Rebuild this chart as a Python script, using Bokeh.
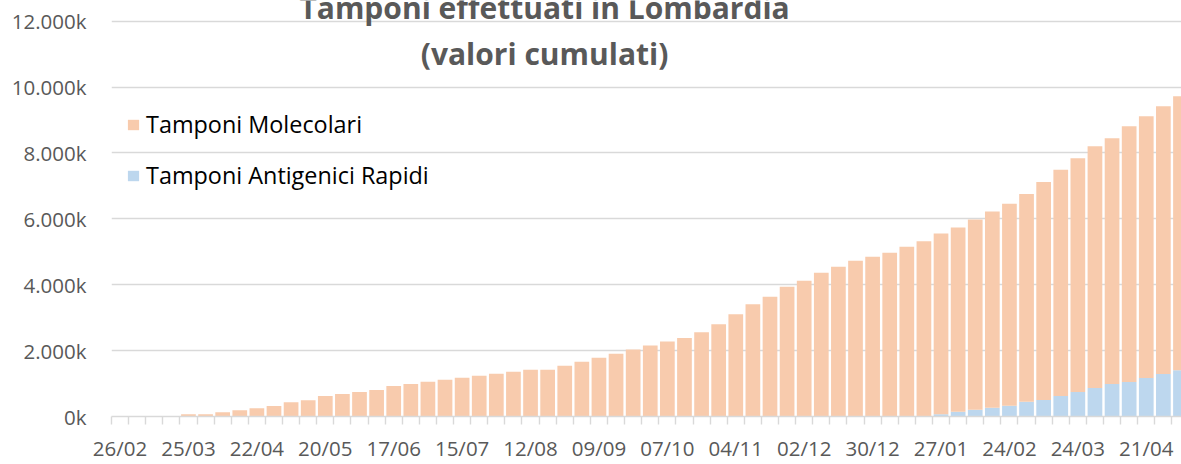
from bokeh.plotting import figure
from bokeh.models import (ColumnDataSource, Range1d, FixedTicker, Legend, LegendItem)
from bokeh.core.properties import value
from bokeh.embed import file_html
from bokeh.resources import INLINE

# ---- data (thousands of tests, cumulative, weekly from 26/02/2020) ----
molecolari = [0, 0, 0, 0, 71, 71, 132, 193, 254, 315, 436, 497, 619, 680, 741, 802,
              928, 989, 1051, 1112, 1173, 1234, 1295, 1357, 1418, 1418, 1540, 1663, 1785, 1907, 2030, 2152,
              2275, 2385, 2555, 2798, 3101, 3404, 3636, 3939, 4121, 4363, 4545, 4727, 4848, 4969, 5151, 5318,
              5483, 5595, 5775, 5957, 6138, 6310, 6612, 6864, 7096, 7338, 7459, 7762, 7943, 8125, 8316]
antigenici = [0] * 48 + [71, 141, 202, 262, 323, 444, 504, 625, 746, 867, 988, 1048, 1169, 1290, 1401]
settimana = list(range(len(molecolari)))

tick_pos = [0, 4, 8, 12, 16, 20, 24, 28, 32, 36, 40, 44, 48, 52, 56, 60]
tick_labels = ["26/02", "25/03", "22/04", "20/05", "17/06", "15/07", "12/08", "09/09",
               "07/10", "04/11", "02/12", "30/12", "27/01", "24/02", "24/03", "21/04"]
y_ticks = [0, 2000, 4000, 6000, 8000, 10000, 12000]
y_labels = ["0k", "2.000k", "4.000k", "6.000k", "8.000k", "10.000k", "12.000k"]

title_lines = ["Tamponi effettuati in Lombardia", "(valori cumulati)"]
nome_mol = "Tamponi Molecolari"
nome_ant = "Tamponi Antigenici Rapidi"

ORANGE = "#F8CBAD"
BLUE = "#BDD7EE"
GRID = "#D9D9D9"
TXT = "#595959"
FONT = "Open Sans"

src = ColumnDataSource(dict(x=settimana, antigenici=antigenici, molecolari=molecolari))

# frame spans from the very top of the canvas; the 12.000k gridline sits ~21px below it
FRAME_BOTTOM = 417
Y_TOP = 12000 * FRAME_BOTTOM / (FRAME_BOTTOM - 20.7)

p = figure(width=1181, height=464, output_backend="svg", toolbar_location=None,
           x_range=Range1d(-0.5, 62.06), y_range=Range1d(0, Y_TOP),
           min_border_left=111, min_border_right=0, min_border_top=0,
           min_border_bottom=464 - FRAME_BOTTOM)
p.outline_line_color = None
p.background_fill_color = "white"
p.border_fill_color = "white"

rs = p.vbar_stack(["antigenici", "molecolari"], x="x", width=0.86, color=[BLUE, ORANGE],
                  line_color=None, source=src)

# axes
xa = p.xaxis[0]
xa.ticker = FixedTicker(ticks=tick_pos, minor_ticks=[i - 0.5 for i in range(len(settimana) + 1)])
xa.major_label_overrides = {t: l for t, l in zip(tick_pos, tick_labels)}
xa.axis_line_color = GRID
xa.axis_line_width = 1.6
xa.major_tick_line_color = None
xa.major_tick_out = 8
xa.major_tick_in = 0
xa.minor_tick_line_color = GRID
xa.minor_tick_line_width = 1.4
xa.minor_tick_out = 8
xa.minor_tick_in = 0
xa.major_label_text_font = FONT
xa.major_label_text_font_size = "20.5px"
xa.major_label_text_color = TXT
xa.major_label_standoff = 9

ya = p.yaxis[0]
ya.ticker = FixedTicker(ticks=y_ticks)
ya.major_label_overrides = {t: l for t, l in zip(y_ticks, y_labels)}
ya.axis_line_color = None
ya.major_tick_line_color = None
ya.minor_tick_line_color = None
ya.major_tick_out = 0
ya.major_tick_in = 0
ya.major_label_text_font = FONT
ya.major_label_text_font_size = "20.5px"
ya.major_label_text_color = TXT
ya.major_label_standoff = 25

p.xgrid.grid_line_color = None
p.ygrid.grid_line_color = GRID
p.ygrid.grid_line_width = 1.4

# legend
legend = Legend(items=[LegendItem(label=nome_mol, renderers=[rs[1]]),
                       LegendItem(label=nome_ant, renderers=[rs[0]])],
                location=(15, 225), orientation="vertical",
                glyph_width=14, glyph_height=13, label_height=32, spacing=19,
                label_standoff=6, padding=0, margin=0,
                border_line_color=None, background_fill_alpha=0,
                label_text_font=FONT, label_text_font_size="23.4px", label_text_color="#000000")
p.add_layout(legend)

# title (two lines), placed inside the frame's top band (first line cut by the top edge, as in the source)
title_src = ColumnDataSource(dict(x=[24.82, 24.82], y=[12400, 11010], t=title_lines))
p.text(x="x", y="y", text="t", source=title_src, text_align="center", text_baseline="alphabetic",
       text_font=value(FONT), text_font_style="bold", text_font_size="30px", text_color=TXT)

open("out.html", "w").write(file_html(p, INLINE))
